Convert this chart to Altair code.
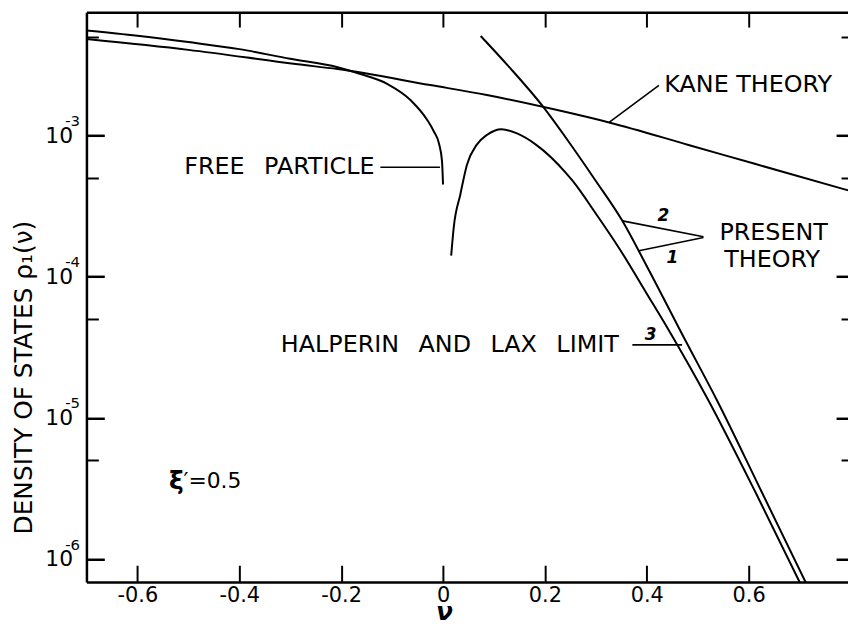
import altair as alt
import pandas as pd

FONT = "DejaVu Sans"

# ---------------- data ----------------
kane_nu = [-0.7, -0.5, -0.285, -0.207, -0.025, 0.086, 0.222, 0.326, 0.482, 0.612, 0.8]
kane_rho = [4.83e-3, 4.05e-3, 3.2e-3, 2.96e-3, 2.28e-3, 1.94e-3, 1.524e-3, 1.24e-3,
            8.59e-4, 6.31e-4, 4.05e-4]

free_nu = [-0.7, -0.6, -0.5, -0.4, -0.3, -0.207, -0.162, -0.109, -0.064, -0.031,
           -0.018, -0.008, -0.002, 0.0]
free_rho = [5.56e-3, 5.1e-3, 4.6e-3, 4.1e-3, 3.5e-3, 3.05e-3, 2.73e-3, 2.32e-3,
            1.79e-3, 1.29e-3, 1.07e-3, 8.8e-4, 6.6e-4, 4.5e-4]

# present theory, curve 1 (with maximum)
pres_nu = [0.016, 0.021, 0.034, 0.047, 0.066, 0.086, 0.115, 0.144, 0.183, 0.2415,
           0.2546, 0.3, 0.3454, 0.4, 0.4429, 0.5203, 0.6134, 0.7029, 0.7191]
pres_rho = [1.41e-4, 2.23e-4, 3.83e-4, 6.22e-4, 8.6e-4, 1.01e-3, 1.11e-3, 1.04e-3,
            8.6e-4, 5.43e-4, 4.77e-4, 2.8e-4, 1.6e-4, 7.59e-5, 4.2e-5,
            1.345e-5, 2.97e-6, 6.53e-7, 4.95e-7]

# curves 2 / 3 (steep branch, Halperin-Lax limit)
hl_nu = [0.0739, 0.131, 0.196, 0.2415, 0.3, 0.352, 0.3975, 0.4754, 0.5372, 0.6259,
         0.7146, 0.7308]
hl_rho = [5.08e-3, 3.03e-3, 1.61e-3, 9.62e-4, 4.77e-4, 2.49e-4, 1.237e-4, 3.56e-5,
          1.345e-5, 2.97e-6, 6.53e-7, 4.95e-7]

# leader lines of the annotations (data coordinates)
lead_x1 = [-0.123, 0.326, 0.3522, 0.3846, 0.3717]
lead_x2 = [-0.006, 0.4238, 0.5113, 0.5113, 0.4692]
lead_y1 = [5.96e-4, 1.24e-3, 2.487e-4, 1.530e-4, 3.29e-5]
lead_y2 = [5.96e-4, 2.27e-3, 1.919e-4, 1.898e-4, 3.29e-5]

x_ticks = [-0.6, -0.4, -0.2, 0.0, 0.2, 0.4, 0.6]
y_major = [1e-3, 1e-4, 1e-5, 1e-6]
y_minor = [5e-3, 5e-4, 5e-5, 5e-6]

GAP = "\u2002\u00a0"
txt_left = ["KANE THEORY"]
txt_left_nu = [0.4345]
txt_left_rho = [2.265e-3]

txt_right = ["FREE" + GAP + "PARTICLE", "HALPERIN" + GAP + "AND" + GAP + "LAX" + GAP + "LIMIT"]
txt_right_nu = [-0.1345, 0.345]
txt_right_rho = [5.96e-4, 3.29e-5]

txt_center = ["PRESENT", "THEORY"]
txt_center_nu = [0.649, 0.646]
txt_center_rho = [2.048e-4, 1.312e-4]

num_txt = ["2", "1", "3"]
num_nu = [0.4327, 0.4503, 0.4074]
num_rho = [2.70e-4, 1.366e-4, 3.87e-5]

xi_sym = ["\u03be"]
xi_eq = ["\u2032=0.5"]
xi_sym_nu = [-0.538]
xi_eq_nu = [-0.5095]
xi_rho = [3.58e-6]

# ---------------- scales / axes ----------------
XS = alt.Scale(domain=[-0.7, 0.795], nice=False, zero=False)
YS = alt.Scale(type="log", domain=[6.86e-7, 7.49e-3], nice=False)


def ax(**kw):
    base = dict(grid=False, title=None, domainColor="black", tickColor="black",
                labelColor="black", labelFont=FONT, titleFont=FONT, titleColor="black",
                labelOverlap=False, labelFlush=False)
    base.update(kw)
    return alt.Axis(**base)


x_bottom_ticks = ax(orient="bottom", values=x_ticks, offset=-17, tickSize=17, tickWidth=2,
                    domain=False, labelFontSize=21, labelPadding=3,
                    labelExpr="datum.value == 0 ? '0' : (datum.value < 0 ? '-' : '') + format(abs(datum.value), '.1f')")
x_bottom_domain = ax(orient="bottom", domain=True, domainWidth=2.5, ticks=False, labels=False,
                     title="\u03bd", titleX=360, titleY=38, titleBaseline="alphabetic",
                     titleAlign="center", titleAngle=0, titleFontSize=25,
                     titleFontStyle="italic", titleFontWeight="bold")
x_top_ticks = ax(orient="top", values=x_ticks, offset=-15, tickSize=15, tickWidth=2,
                 domain=False, labels=False)
x_top_domain = ax(orient="top", domain=True, domainWidth=2.5, ticks=False, labels=False)

y_left_major = ax(orient="left", values=y_major, offset=-18, tickSize=18, tickWidth=2.5,
                  domain=False, labelExpr="'10'", labelFontSize=22, labelPadding=14)
y_left_minor = ax(orient="left", values=y_minor, offset=-12, tickSize=12, tickWidth=2,
                  domain=False, labels=False)
y_left_domain = ax(orient="left", domain=True, domainWidth=2.5, ticks=False, labels=False,
                   title="DENSITY OF STATES  \u03c1\u2081(\u03bd)", titleX=-63, titleY=367.5,
                   titleAngle=270, titleBaseline="middle", titleAlign="center",
                   titleFontSize=25, titleFontWeight="normal")
y_right_major = ax(orient="right", values=y_major, offset=-12, tickSize=12, tickWidth=2.5,
                   domain=False, labels=False)
y_right_minor = ax(orient="right", values=y_minor, offset=-7, tickSize=7, tickWidth=2,
                   domain=False, labels=False)
y_sup = ax(orient="left", values=y_major, ticks=False, tickSize=0, domain=False,
           labelExpr="'-' + format(-round(log(datum.value) / LN10), 'd')",
           labelFontSize=15, labelPadding=7, labelOffset=-15)

# ---------------- layers ----------------
def curve(nu, rho, xaxis, yaxis):
    df = pd.DataFrame({"nu": nu, "rho": rho})
    return alt.Chart(df).mark_line(color="black", strokeWidth=2, clip=True,
                                   interpolate="monotone").encode(
        x=alt.X("nu:Q", scale=XS, axis=xaxis),
        y=alt.Y("rho:Q", scale=YS, axis=yaxis),
    )


kane = curve(kane_nu, kane_rho, x_bottom_ticks, y_left_major)
free = curve(free_nu, free_rho, x_bottom_domain, y_left_domain)
pres = curve(pres_nu, pres_rho, x_top_ticks, y_left_minor)
hl = curve(hl_nu, hl_rho, x_top_domain, y_right_major)

lead_df = pd.DataFrame({"x1": lead_x1, "x2": lead_x2, "y1": lead_y1, "y2": lead_y2})
leaders = alt.Chart(lead_df).mark_rule(color="black", strokeWidth=1.6).encode(
    x=alt.X("x1:Q", scale=XS, axis=None), x2="x2:Q",
    y=alt.Y("y1:Q", scale=YS, axis=y_right_minor), y2="y2:Q",
)


def texts(labels, nu, rho, yaxis=None, **mk):
    df = pd.DataFrame({"t": labels, "nu": nu, "rho": rho})
    props = dict(font=FONT, color="black", baseline="middle")
    props.update(mk)
    return alt.Chart(df).mark_text(**props).encode(
        x=alt.X("nu:Q", scale=XS, axis=None),
        y=alt.Y("rho:Q", scale=YS, axis=yaxis),
        text="t:N",
    )


t_left = texts(txt_left, txt_left_nu, txt_left_rho, yaxis=y_sup, align="left", fontSize=24)
t_right = texts(txt_right, txt_right_nu, txt_right_rho, align="right", fontSize=24)
t_center = texts(txt_center, txt_center_nu, txt_center_rho, align="center", fontSize=24)
t_num = texts(num_txt, num_nu, num_rho, align="center", fontSize=17,
              fontWeight="bold", fontStyle="italic")
t_xi = texts(xi_sym, xi_sym_nu, xi_rho, align="left", fontSize=25, fontWeight="bold")
t_xi_eq = texts(xi_eq, xi_eq_nu, xi_rho, align="left", fontSize=22)

chart = alt.layer(kane, free, pres, hl, leaders, t_left, t_right, t_center, t_num,
                  t_xi, t_xi_eq).resolve_axis(
    x="independent", y="independent"
).properties(
    width=767, height=574,
    autosize=alt.AutoSizeParams(type="none"),
    padding={"left": 79, "top": 2, "right": 0, "bottom": 44},
    background="white",
).configure_view(stroke=None)

chart.save("out.html", embed_options={"renderer": "svg", "actions": False})
